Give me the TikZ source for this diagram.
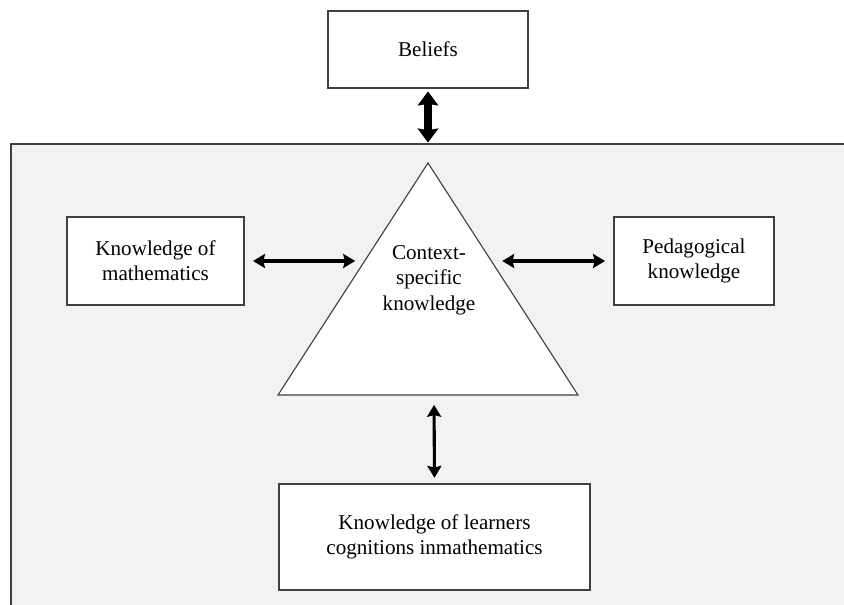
\documentclass[tikz,border=0pt]{standalone}
\usepackage{fontspec}
\setmainfont{Liberation Serif}
\usetikzlibrary{positioning,arrows.meta}

\begin{document}
\begin{tikzpicture}[x=0.025cm, y=-0.025cm,
  % common options for the boxes:
  block/.style = {draw=black!75, fill=white, line width=0.8pt, align=center,
              font=\fontsize{15}{18}\selectfont, inner sep=0},
  % common options for the arrows:
  link/.style = {{Stealth[length=8.5pt,width=10pt,inset=1.2pt]}-{Stealth[length=8.5pt,width=10pt,inset=1.2pt]},
              line width=2.2pt},
  biglink/.style = {{Stealth[length=10pt,width=14.5pt,inset=1.2pt]}-{Stealth[length=10pt,width=14.5pt,inset=1.2pt]},
              line width=5pt}
	]
  \useasboundingbox (0,0) rectangle (844,605);
  \fill[white] (0,0) rectangle (844,605);

  % grey panel
  \fill[black!5] (11,144) rectangle (844,605);
  \draw[black!75, line width=0.9pt] (11,605) -- (11,144) -- (844,144);
  \coordinate (frametop) at (428,144);

  \node[block, minimum width=5cm, minimum height=1.925cm] (beliefs) at (428,49.5) {Beliefs};
  \node[block, minimum width=4.425cm, minimum height=2.2cm] (math) at (155.5,261) {Knowledge of\\mathematics};
  \node[block, minimum width=4cm, minimum height=2.2cm] (peda) at (694,261) {Pedagogical\\knowledge};
  \node[block, minimum width=7.775cm, minimum height=2.65cm] (learners) at (434.5,537) {Knowledge of learners\\cognitions inmathematics};

  % triangle
  \coordinate (apex) at (428,163);
  \coordinate (baseL) at (278,395);
  \coordinate (baseR) at (578,395);
  \draw[black!75, fill=white, line width=0.8pt] (apex) -- (baseR) -- (baseL) -- cycle;
  \node[align=center, font=\fontsize{15}{18}\selectfont] (ctx) at (429,280) {Context-\\specific\\knowledge};
  \coordinate (ctxW) at (365,261);
  \coordinate (ctxE) at (491,261);
  \coordinate (ctxS) at (434,395);

  \draw[biglink, shorten <=2pt, shorten >=1pt] (beliefs) -- (frametop);
  \draw[link, shorten <=6pt, shorten >=7pt] (math.east) -- (ctxW);
  \draw[link, shorten <=8pt, shorten >=6pt] (ctxE) -- (peda.west);
  \draw[link, shorten <=7pt, shorten >=4pt] (ctxS) -- (learners.north);
\end{tikzpicture}
\end{document}
